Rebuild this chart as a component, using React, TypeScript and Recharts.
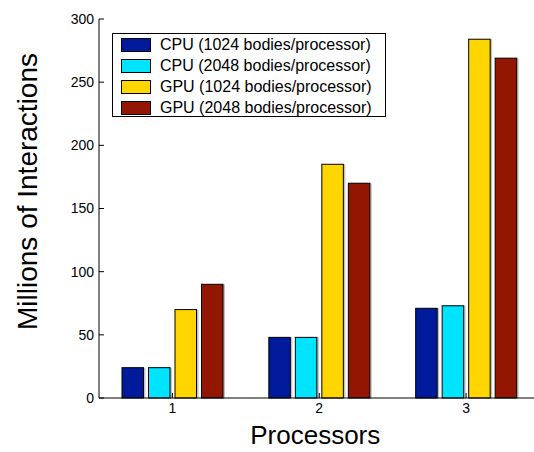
import { BarChart, Bar, XAxis, YAxis, Legend, Label } from 'recharts';

const processors = ['1', '2', '3'];
const cpu1024 = [24, 48, 71];
const cpu2048 = [24, 48, 73];
const gpu1024 = [70, 185, 284];
const gpu2048 = [90, 170, 269];
const yTicks = [0, 50, 100, 150, 200, 250, 300];

const series = [
  { key: 'cpu1024', name: 'CPU (1024 bodies/processor)', color: '#001a9c' },
  { key: 'cpu2048', name: 'CPU (2048 bodies/processor)', color: '#00e4ff' },
  { key: 'gpu1024', name: 'GPU (1024 bodies/processor)', color: '#ffd600' },
  { key: 'gpu2048', name: 'GPU (2048 bodies/processor)', color: '#921600' },
];

const data = processors.map((p, i) => ({
  p,
  cpu1024: cpu1024[i],
  cpu2048: cpu2048[i],
  gpu1024: gpu1024[i],
  gpu2048: gpu2048[i],
}));

const FONT = '"Liberation Sans", Arial, Helvetica, sans-serif';

// bar with a small grey drop shadow, like the original
const ShadowBar = (props: any) => {
  const { x, y, width, height, fill } = props;
  if (!height || height <= 0) return null;
  return (
    <g>
      <rect x={x + 2} y={y} width={width} height={height} fill="#a8a8a8" opacity={0.7} />
      <rect x={x} y={y} width={width} height={height} fill={fill} stroke="#000" strokeWidth={1} />
    </g>
  );
};

const LegendBox = () => (
  <div
    style={{
      boxSizing: 'border-box',
      width: 274,
      height: 84,
      border: '1px solid #000',
      background: '#fff',
      padding: '1px 0 0 8px',
      fontFamily: FONT,
      fontSize: 16,
      color: '#000',
    }}
  >
    {series.map((s) => (
      <div key={s.key} style={{ display: 'flex', alignItems: 'center', height: 20.8 }}>
        <span
          style={{
            display: 'inline-block',
            boxSizing: 'border-box',
            width: 30,
            height: 14,
            background: s.color,
            border: '1px solid #000',
            marginRight: 9,
          }}
        />
        <span style={{ whiteSpace: 'nowrap' }}>{s.name}</span>
      </div>
    ))}
  </div>
);

const YTitle = (props: any) => {
  const vb = props.viewBox;
  const x = vb.x + 37;
  const y = vb.y + vb.height / 2 - 17;
  return (
    <text
      x={x}
      y={y}
      transform={`rotate(-90, ${x}, ${y})`}
      textAnchor="middle"
      fontSize={28}
      fontFamily={FONT}
      fill="#000"
    >
      Millions of Interactions
    </text>
  );
};

const XTitle = (props: any) => {
  const vb = props.viewBox;
  return (
    <text
      x={vb.x + vb.width / 2 - 4}
      y={vb.y + vb.height - 8}
      textAnchor="middle"
      fontSize={26}
      fontFamily={FONT}
      fill="#000"
    >
      Processors
    </text>
  );
};

export default function App() {
  return (
    <div
      style={{
        position: 'absolute',
        left: 0,
        top: 0,
        width: 534,
        height: 452,
        overflow: 'hidden',
        background: '#fff',
        fontFamily: FONT,
      }}
    >
      <BarChart
        width={560}
        height={452}
        data={data}
        margin={{ top: 19, right: 20.5, bottom: 0, left: 0 }}
        barSize={21.5}
        barGap={5}
      >
        <XAxis
          dataKey="p"
          height={54}
          stroke="#000"
          tickSize={-5}
          tickMargin={10}
          tick={{ fontSize: 14, fill: '#000', fontFamily: FONT }}
        >
          <Label content={<XTitle />} />
        </XAxis>
        <XAxis
          xAxisId="top"
          dataKey="p"
          orientation="top"
          height={0}
          stroke="#000"
          tickSize={-5}
          tickFormatter={() => ''}
        />
        <YAxis
          width={99}
          domain={[0, 300]}
          ticks={yTicks}
          stroke="#000"
          tickSize={-5}
          tickMargin={10}
          tick={{ fontSize: 14, fill: '#000', fontFamily: FONT }}
        >
          <Label content={<YTitle />} />
        </YAxis>
        <YAxis
          yAxisId="right"
          orientation="right"
          width={0}
          domain={[0, 300]}
          ticks={yTicks}
          stroke="#000"
          tickSize={-5}
          tickFormatter={() => ''}
        />
        <Legend
          layout="horizontal"
          verticalAlign="middle"
          align="center"
          content={<LegendBox />}
          wrapperStyle={{ position: 'absolute', left: 112, top: 33, width: 274, height: 84 }}
        />
        {series.map((s) => (
          <Bar
            key={s.key}
            dataKey={s.key}
            name={s.name}
            fill={s.color}
            shape={ShadowBar}
            isAnimationActive={false}
          />
        ))}
      </BarChart>
    </div>
  );
}
